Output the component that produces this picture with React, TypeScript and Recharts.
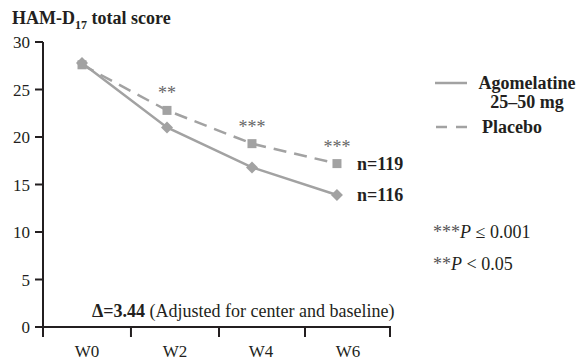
import { LineChart, Line, XAxis, YAxis, LabelList } from "recharts";

const weeks = [0, 1, 2, 3];
const weekLabels = ["W0", "W2", "W4", "W6"];
const agomelatine = [27.8, 21.0, 16.8, 13.9];
const placebo = [27.6, 22.8, 19.3, 17.2];
const stars = ["", "**", "***", "***"];
const nAgo = "n=116";
const nPla = "n=119";
const yTicks = [0, 5, 10, 15, 20, 25, 30];
// band edges and label spots on the week scale
const edgeTicks = [-0.459, 0.576, 1.612, 2.624, 3.624];
const labelTicks = [0.06, 1.094, 2.106, 3.129];

const GREY = "#a2a2a2";
const INK = "#231f20";
const FONT = "'Liberation Serif', 'Times New Roman', serif";

// chart box
const W = 578;
const H = 363;
const M = { top: 42, right: 188, left: 0, bottom: 0 };
const Y_W = 43;
const X_H = 36;
const plotL = M.left + Y_W;
const plotR = W - M.right;
const plotB = H - M.bottom - X_H;
const xDomain: [number, number] = [edgeTicks[0], edgeTicks[edgeTicks.length - 1]];
const edgePx = (v: number) => plotL + ((v - xDomain[0]) / (xDomain[1] - xDomain[0])) * (plotR - plotL);

const rows = weeks.map((w, i) => ({
  x: w,
  ago: agomelatine[i],
  pla: placebo[i],
  stars: stars[i],
  nAgo: i === weeks.length - 1 ? nAgo : "",
  nPla: i === weeks.length - 1 ? nPla : "",
}));

const Diamond = (p: any) => {
  const { cx, cy } = p;
  if (cx == null || cy == null) return null;
  const r = 6;
  return <polygon key={`d${p.index}`} points={`${cx},${cy - r} ${cx + r},${cy} ${cx},${cy + r} ${cx - r},${cy}`} fill={GREY} />;
};

const Square = (p: any) => {
  const { cx, cy } = p;
  if (cx == null || cy == null) return null;
  const s = 9;
  return <rect key={`s${p.index}`} x={cx - s / 2} y={cy - s / 2} width={s} height={s} fill={GREY} />;
};

const StarLabel = (p: any) => {
  if (!p.value) return null;
  return (
    <text x={p.x} y={p.y - 11} textAnchor="middle" fontFamily={FONT} fontSize={18} fill="#666">
      {p.value}
    </text>
  );
};

const NLabel = (p: any) => {
  if (!p.value) return null;
  return (
    <text x={p.x + 20} y={p.y + 6} fontFamily={FONT} fontSize={18} fontWeight="bold" fill={INK}>
      {p.value}
    </text>
  );
};

export default function App() {
  return (
    <div style={{ position: "relative", width: W, height: H, background: "#fff" }}>
      <style>{`body{margin:0}`}</style>
      <LineChart width={W} height={H} data={rows} margin={M}>
        <XAxis
          dataKey="x"
          type="number"
          domain={xDomain}
          ticks={labelTicks}
          tickFormatter={(_v: number, i: number) => weekLabels[i]}
          height={X_H}
          tickSize={0}
          tickMargin={18}
          axisLine={{ stroke: INK, strokeWidth: 2 }}
          tickLine={false}
          interval={0}
          tick={{ fill: INK, fontSize: 17, fontFamily: FONT }}
          allowDataOverflow
        />
        <YAxis
          domain={[0, 30]}
          ticks={yTicks}
          width={Y_W}
          tickSize={8}
          tickMargin={5}
          axisLine={{ stroke: INK, strokeWidth: 2 }}
          tickLine={{ stroke: INK, strokeWidth: 2 }}
          tick={{ fill: INK, fontSize: 17, fontFamily: FONT }}
        />
        <Line
          dataKey="pla"
          name="Placebo"
          stroke={GREY}
          strokeWidth={2.5}
          strokeDasharray="13 8"
          dot={Square}
          activeDot={false}
          isAnimationActive={false}
        >
          <LabelList dataKey="stars" content={StarLabel} />
          <LabelList dataKey="nPla" content={NLabel} />
        </Line>
        <Line
          dataKey="ago"
          name="Agomelatine 25–50 mg"
          stroke={GREY}
          strokeWidth={2.5}
          dot={Diamond}
          activeDot={false}
          isAnimationActive={false}
        >
          <LabelList dataKey="nAgo" content={NLabel} />
        </Line>
      </LineChart>
      <svg width={W} height={H} style={{ position: "absolute", left: 0, top: 0, pointerEvents: "none" }}>
        {/* x baseline with week band edges */}
        <line x1={plotL - 1} y1={plotB} x2={plotR + 1} y2={plotB} stroke={INK} strokeWidth={2} />
        {edgeTicks.map((e) => (
          <line key={e} x1={edgePx(e)} y1={plotB} x2={edgePx(e)} y2={plotB + 10} stroke={INK} strokeWidth={2} />
        ))}
        <text x={12} y={24} fontFamily={FONT} fontSize={18} fontWeight="bold" fill={INK}>
          HAM-D<tspan fontSize={12} dy={5}>17</tspan>
          <tspan dy={-5}> total score</tspan>
        </text>
        {/* legend */}
        <line x1={435} y1={83} x2={467} y2={83} stroke={GREY} strokeWidth={2.5} />
        <text x={527} y={89} textAnchor="middle" fontFamily={FONT} fontSize={18} fontWeight="bold" fill={INK}>Agomelatine</text>
        <text x={527} y={108} textAnchor="middle" fontFamily={FONT} fontSize={18} fontWeight="bold" fill={INK}>25–50 mg</text>
        <line x1={436} y1={127} x2={467} y2={127} stroke={GREY} strokeWidth={2.5} strokeDasharray="11 9" />
        <text x={482} y={133} fontFamily={FONT} fontSize={18} fontWeight="bold" fill={INK}>Placebo</text>
        <text x={92} y={317} fontFamily={FONT} fontSize={18} fill={INK}>
          <tspan fontWeight="bold">Δ=3.44</tspan> (Adjusted for center and baseline)
        </text>
        <text x={433} y={238} fontFamily={FONT} fontSize={18} fill={INK}>
          <tspan fill="#555">***</tspan>
          <tspan fontStyle="italic">P</tspan> ≤ 0.001
        </text>
        <text x={433} y={270} fontFamily={FONT} fontSize={18} fill={INK}>
          <tspan fill="#555">**</tspan>
          <tspan fontStyle="italic">P</tspan> &lt; 0.05
        </text>
      </svg>
    </div>
  );
}
